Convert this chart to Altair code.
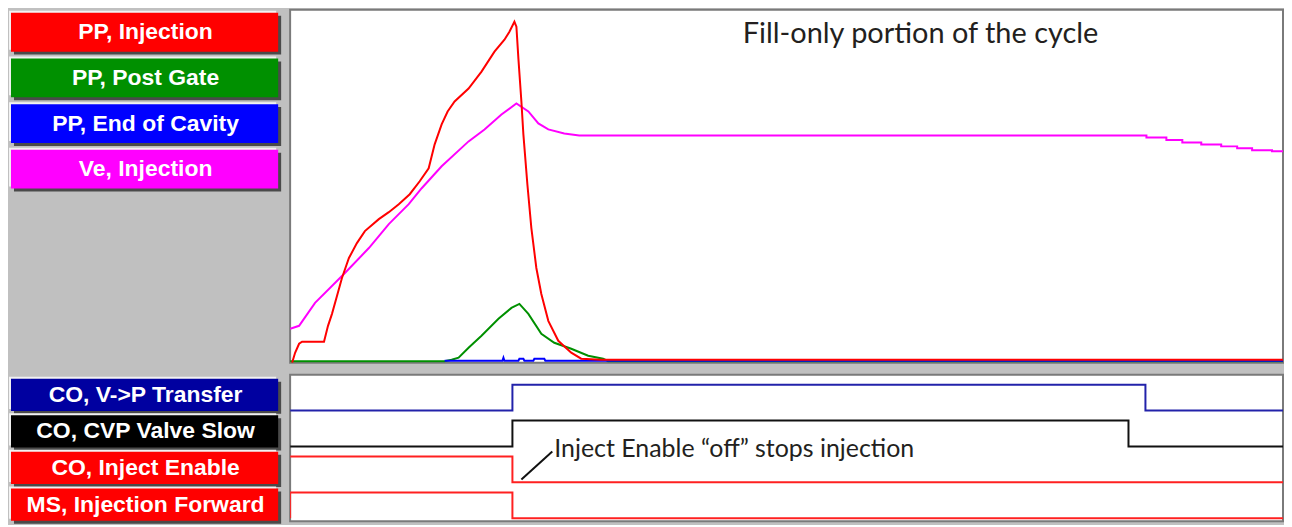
import altair as alt
import pandas as pd

# ---------------- legend buttons ----------------
TOP_LABELS = ["PP, Injection", "PP, Post Gate", "PP, End of Cavity", "Ve, Injection"]
TOP_COLORS = ["#ff0000", "#009000", "#0000ff", "#ff00ff"]
BOT_LABELS = ["CO, V->P Transfer", "CO, CVP Valve Slow", "CO, Inject Enable", "MS, Injection Forward"]
BOT_COLORS = ["#0000a0", "#000000", "#ff0000", "#ff0000"]

# ---------------- top panel (analog traces) ----------------
PP_INJ_T = [2, 5, 9, 12, 15, 34, 38, 42, 47, 52, 59, 67, 75, 89, 99, 109, 120, 130, 139, 145,
            152, 158, 165, 179, 192, 205, 215, 220, 225, 227, 229, 232, 234, 238, 242, 247,
            252, 259, 269, 282, 292, 312, 996]
PP_INJ_V = [0, 10, 19, 21, 21, 21, 37, 49, 67, 85, 105, 120, 132, 144, 151, 159, 169, 182, 195, 219,
            239, 252, 262, 275, 292, 312, 324, 332, 342, 337, 305, 262, 229, 179, 135, 95,
            69, 42, 22, 10, 4, 3, 3]

POST_GATE_T = [0, 155, 162, 169, 179, 192, 209, 222, 230, 239, 252, 265, 282, 299, 314, 319, 996]
POST_GATE_V = [1.5, 1.5, 3, 5, 15, 27, 44, 55, 59, 49, 29, 20, 14, 7, 4, 1.5, 1.5]

END_CAV_T = [155, 213, 214, 215, 229, 230, 234, 235, 244, 245, 255, 256, 996]
END_CAV_V = [2, 2, 5, 2, 2, 4, 4, 2, 2, 4, 4, 2, 2]

VE_INJ_T = [0, 9, 25, 55, 79, 99, 119, 132, 152, 179, 195, 212, 227, 239, 249, 259, 275, 290,
            859, 859, 879, 879, 895, 895, 914, 914, 934, 934, 950, 950, 965, 965, 985, 985, 996]
VE_INJ_V = [34, 37, 60, 90, 115, 139, 159, 175, 197, 222, 234, 249, 260, 252, 240, 234, 230, 228,
            228, 226, 226, 223.5, 223.5, 221, 221, 219, 219, 217, 217, 215, 215, 213, 213, 212, 212]

TITLE = "Fill-only portion of the cycle"
TITLE_POS = [454, 330]

# ---------------- bottom panel (digital traces) ----------------
VP_T = [0, 223, 223, 858, 858, 996]
VP_S = [0, 0, 1, 1, 0, 0]
CVP_T = [0, 223, 223, 841, 841, 996]
CVP_S = [0, 0, 1, 1, 0, 0]
IE_T = [0, 223, 223, 996]
IE_S = [1, 1, 0, 0]
MS_T = [0, 0, 223, 223, 996]
MS_S = [0, 1, 1, 0, 0]
LANES = [3, 2, 1, 0]
LINE_COLORS = ["#2222aa", "#111111", "#ff2020", "#ff2020"]

NOTE = "Inject Enable \u201coff\u201d stops injection"
NOTE_POS = [265, 1.92]
LEADER_T = [232, 263]
LEADER_U = [1.08, 1.86]

PLOT_W, TOP_H, BOT_H, BTN_W = 996, 354, 147, 278


def buttons(labels, colors, pitch, off, h, height):
    dom = height / pitch
    sh = 3 / pitch   # shadow shift in slot units
    hl = 2 / pitch   # highlight shift in slot units
    df = pd.DataFrame({"label": labels, "color": colors, "slot": list(range(len(labels)))})
    base = alt.Chart(df).transform_calculate(
        y0=f"datum.slot + {off}",
        y1=f"datum.slot + {off + h}",
        ym=f"datum.slot + {off + h / 2}",
        s0=f"datum.slot + {off + sh}",
        s1=f"datum.slot + {off + h + sh}",
        h0=f"datum.slot + {off - hl}",
        h1=f"datum.slot + {off + h - hl}",
    )
    ys = alt.Scale(domain=[0, dom], reverse=True, nice=False, zero=False)
    shadow = base.mark_rect(color="#4a4a4a").encode(
        x=alt.value(5), x2=alt.value(273),
        y=alt.Y("s0:Q", scale=ys, axis=None), y2="s1:Q")
    light = base.mark_rect(color="#f2f2f2").encode(
        x=alt.value(0), x2=alt.value(268),
        y=alt.Y("h0:Q", scale=ys, axis=None), y2="h1:Q")
    main = base.mark_rect().encode(
        x=alt.value(2), x2=alt.value(270),
        y=alt.Y("y0:Q", scale=ys, axis=None), y2="y1:Q",
        color=alt.Color("color:N", scale=None))
    txt = base.mark_text(color="white", font="Liberation Sans", fontWeight="bold",
                         fontSize=23, align="center", baseline="middle").encode(
        x=alt.value(137), y=alt.Y("ym:Q", scale=ys, axis=None), text="label:N")
    return alt.layer(shadow, light, main, txt).properties(
        width=BTN_W, height=height, view=alt.ViewBackground(stroke="transparent"))


xs = alt.Scale(domain=[0, PLOT_W], nice=False, zero=False)

# top plot
ys_top = alt.Scale(domain=[0, TOP_H], nice=False, zero=False)
top_layers = []
for t, v, c in [(VE_INJ_T, VE_INJ_V, "#ff00ff"), (POST_GATE_T, POST_GATE_V, "#009000"),
                (END_CAV_T, END_CAV_V, "#0000ff"), (PP_INJ_T, PP_INJ_V, "#ff0000")]:
    d = pd.DataFrame({"t": t, "v": v, "i": list(range(len(t)))})
    top_layers.append(
        alt.Chart(d).mark_line(color=c, strokeWidth=2, clip=True).encode(
            x=alt.X("t:Q", scale=xs, axis=None),
            y=alt.Y("v:Q", scale=ys_top, axis=None),
            order="i:Q"))
title_df = pd.DataFrame({"t": [TITLE_POS[0]], "v": [TITLE_POS[1]], "txt": [TITLE]})
top_layers.append(
    alt.Chart(title_df).mark_text(align="left", baseline="middle", font="Lato",
                                  fontSize=29, color="#231f20").encode(
        x=alt.X("t:Q", scale=xs, axis=None), y=alt.Y("v:Q", scale=ys_top, axis=None),
        text="txt:N"))
top_plot = alt.layer(*top_layers).properties(
    width=PLOT_W, height=TOP_H,
    view=alt.ViewBackground(fill="white", stroke="#7a7a7a", strokeWidth=2))

# bottom plot
ys_bot = alt.Scale(domain=[-0.083, 4.0], nice=False, zero=False)
bot_layers = []
for t, s, lane, c in zip([VP_T, CVP_T, IE_T, MS_T], [VP_S, CVP_S, IE_S, MS_S], LANES, LINE_COLORS):
    d = pd.DataFrame({"t": t, "s": s, "i": list(range(len(t)))})
    bot_layers.append(
        alt.Chart(d).transform_calculate(u=f"{lane} + datum.s * 0.72")
        .mark_line(color=c, strokeWidth=2, clip=True).encode(
            x=alt.X("t:Q", scale=xs, axis=None),
            y=alt.Y("u:Q", scale=ys_bot, axis=None),
            order="i:Q"))
leader = pd.DataFrame({"t": LEADER_T, "u": LEADER_U})
bot_layers.append(
    alt.Chart(leader).mark_line(color="#111111", strokeWidth=2).encode(
        x=alt.X("t:Q", scale=xs, axis=None), y=alt.Y("u:Q", scale=ys_bot, axis=None)))
note_df = pd.DataFrame({"t": [NOTE_POS[0]], "u": [NOTE_POS[1]], "txt": [NOTE]})
bot_layers.append(
    alt.Chart(note_df).mark_text(align="left", baseline="middle", font="Lato",
                                 fontSize=25, color="#231f20").encode(
        x=alt.X("t:Q", scale=xs, axis=None), y=alt.Y("u:Q", scale=ys_bot, axis=None),
        text="txt:N"))
bot_plot = alt.layer(*bot_layers).properties(
    width=PLOT_W, height=BOT_H,
    view=alt.ViewBackground(fill="white", stroke="#7a7a7a", strokeWidth=2))

top_btn = buttons(TOP_LABELS, TOP_COLORS, 45.8, 0.066, 0.85, TOP_H)
bot_btn = buttons(BOT_LABELS, BOT_COLORS, 36.7, 0.11, 0.88, BOT_H)

chart = alt.vconcat(
    alt.hconcat(top_btn, top_plot, spacing=2),
    alt.hconcat(bot_btn, bot_plot, spacing=2),
    spacing=10,
).properties(padding=0, background="#c0c0c0")

chart.save("out.html", embed_options={"renderer": "svg", "actions": False})
